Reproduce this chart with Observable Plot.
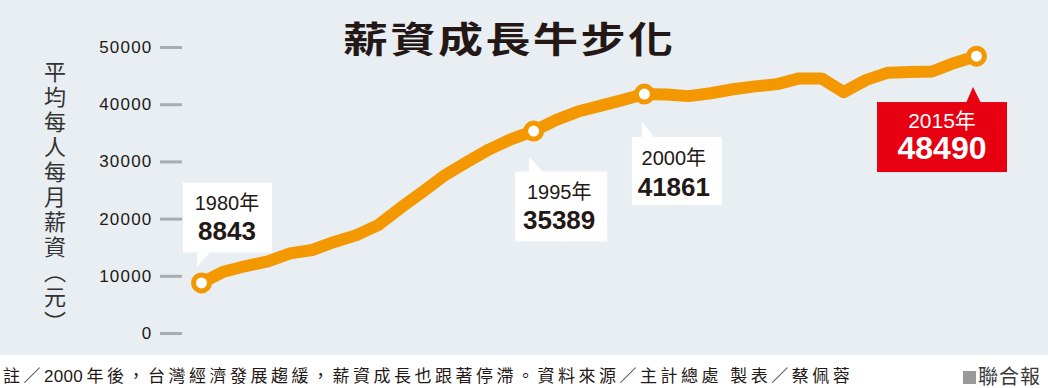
<!DOCTYPE html>
<html>
<head>
<meta charset="utf-8">
<script src="https://cdn.jsdelivr.net/npm/d3@7"></script>
<script src="https://cdn.jsdelivr.net/npm/@observablehq/plot@0.6"></script>
<style>
  body { margin: 0; background: #fff; }
  #wrap { position: relative; width: 1048px; height: 388px; overflow: hidden; }
  #chart { position: relative; width: 1048px; height: 355px; background: #e8eef2; }
  #chart svg { position: absolute; left: 0; top: 0; }
  #title { position: absolute; left: 343px; top: 14px; font-family: "Noto Sans CJK TC", sans-serif; font-weight: 700;
           font-size: 36px; line-height: 46px; letter-spacing: 2px; color: #231815; transform: scaleX(1.25);
           transform-origin: left center; white-space: nowrap; z-index: 2; }
  #ylabel { position: absolute; left: 43px; top: 61px; writing-mode: vertical-rl; text-orientation: mixed;
            font-feature-settings: "vert" 1; font-family: "Noto Sans CJK TC", sans-serif;
            font-size: 22px; line-height: 24px; letter-spacing: 3px; color: #333; z-index: 2; }
  #footer { position: relative; height: 33px; background: #fff; font-family: "Liberation Sans", "Noto Sans CJK TC", sans-serif;
            font-size: 17px; color: #231815; }
  #note { position: absolute; left: 3px; top: 12px; line-height: 20px; letter-spacing: 3.5px; white-space: nowrap; }
  #note .num { letter-spacing: 0.3px; margin-right: 3.5px; }
  #brand { position: absolute; right: 7px; top: 11px; line-height: 22px; font-size: 20px; letter-spacing: 1px; white-space: nowrap; color: #3a3a3a; }
  #brand .sq { display: inline-block; width: 13px; height: 13px; background: #9a9a9a; margin-right: 2px; vertical-align: 0px; }
  [aria-label="y-axis tick label"] text { letter-spacing: 1.2px; }
</style>
</head>
<body>
<div id="wrap">
  <div id="chart">
    <div id="title">薪資成長牛步化</div>
    <div id="ylabel">平均每人每月薪資（元）</div>
  </div>
  <div id="footer">
    <div id="note">註／<span class="num">2000</span>年後，台灣經濟發展趨緩，薪資成長也跟著停滯。資料來源／主計總處 製表／蔡佩蓉</div>
    <div id="brand"><span class="sq"></span>聯合報</div>
  </div>
</div>
<script>
// ---- data ----
const years = [1980, 1981, 1982, 1983, 1984, 1985, 1986, 1987, 1988, 1989,
               1990, 1991, 1992, 1993, 1994, 1995, 1996, 1997, 1998, 1999,
               2000, 2001, 2002, 2003, 2004, 2005, 2006, 2007, 2008, 2009,
               2010, 2011, 2012, 2013, 2014, 2015];
const wages = [8843, 10800, 11800, 12600, 14000, 14600, 16000, 17200, 19000, 22000,
               24800, 27700, 30000, 32200, 34000, 35389, 37300, 38800, 39800, 40800,
               41861, 41800, 41500, 42000, 42700, 43200, 43600, 44600, 44600, 42200,
               44300, 45600, 45700, 45800, 47300, 48490];
const yTicks = [0, 10000, 20000, 30000, 40000, 50000];
const calloutYears = [1980, 1995, 2000, 2015];
const yearSuffix = "年";

const data = years.map((year, i) => ({year, wage: wages[i]}));
const highlights = calloutYears.map(year => ({year, wage: wages[years.indexOf(year)]}));

// ---- callout styles (pixel offsets relative to the data point) ----
const calloutStyle = {
  1980: {box: [-18, -100, 89, 70], tail: [[-4, -30], [-4, -16], [9, -30]], tx: 26, ty1: -79, ty2: -51, fill: "#fff", color: "#231815", f1: 20, f2: 26},
  1995: {box: [-18, 41, 92, 70], tail: [[-4, 42], [-4, 26], [10, 42]], tx: 26, ty1: 61, ty2: 89.5, fill: "#fff", color: "#231815", f1: 20, f2: 26},
  2000: {box: [-12, 43.4, 90, 68], tail: [[-2, 44.4], [-2, 28.4], [11, 44.4]], tx: 30, ty1: 64, ty2: 93, fill: "#fff", color: "#231815", f1: 20, f2: 26},
  2015: {box: [-99, 46.4, 130, 70], tail: [[-10, 47.4], [-3, 31.4], [5, 47.4]], tx: -34, ty1: 64.4, ty2: 92.4, fill: "#e60012", color: "#fff", f1: 21, f2: 32}
};

const orange = "#f39800";
const fontFam = '"Liberation Sans", "Noto Sans CJK TC", sans-serif';

function callouts(index, scales) {
  const g = d3.create("svg:g").attr("aria-label", "callouts");
  for (const d of highlights) {
    const s = calloutStyle[d.year];
    const px = scales.x(d.year), py = scales.y(d.wage);
    const cg = g.append("g").attr("transform", `translate(${px},${py})`);
    cg.append("rect").attr("x", s.box[0]).attr("y", s.box[1]).attr("width", s.box[2]).attr("height", s.box[3]).attr("fill", s.fill);
    cg.append("path").attr("d", "M" + s.tail.map(p => p.join(",")).join("L") + "Z").attr("fill", s.fill);
    cg.append("text").attr("x", s.tx).attr("y", s.ty1).attr("text-anchor", "middle").attr("dominant-baseline", "central")
      .attr("font-family", fontFam).attr("font-size", s.f1).attr("fill", s.color).text(d.year + yearSuffix);
    cg.append("text").attr("x", s.tx).attr("y", s.ty2).attr("text-anchor", "middle").attr("dominant-baseline", "central")
      .attr("font-family", fontFam).attr("font-size", s.f2).attr("font-weight", "bold").attr("fill", s.color).text(String(d.wage));
  }
  return g.node();
}

const chart = Plot.plot({
  width: 1048,
  height: 355,
  marginTop: 47,
  marginBottom: 22,
  marginLeft: 182,
  marginRight: 72,
  style: {background: "transparent", overflow: "visible", fontFamily: fontFam},
  x: {domain: [1980, 2015], insetLeft: 19, axis: null},
  y: {domain: [0, 50000], axis: null},
  marks: [
    Plot.axisY({ticks: yTicks, tickSize: 22, tickPadding: 8, stroke: "#a9adb0", strokeWidth: 3,
                fill: "#231815", fontSize: 17, tickFormat: d => String(d), label: null}),
    Plot.line(data, {x: "year", y: "wage", stroke: orange, strokeWidth: 12, strokeLinejoin: "round", strokeLinecap: "round"}),
    callouts,
    Plot.dot(highlights, {x: "year", y: "wage", r: 8, fill: "#fff", stroke: orange, strokeWidth: 5})
  ]
});
document.getElementById("chart").appendChild(chart);
</script>
</body>
</html>
